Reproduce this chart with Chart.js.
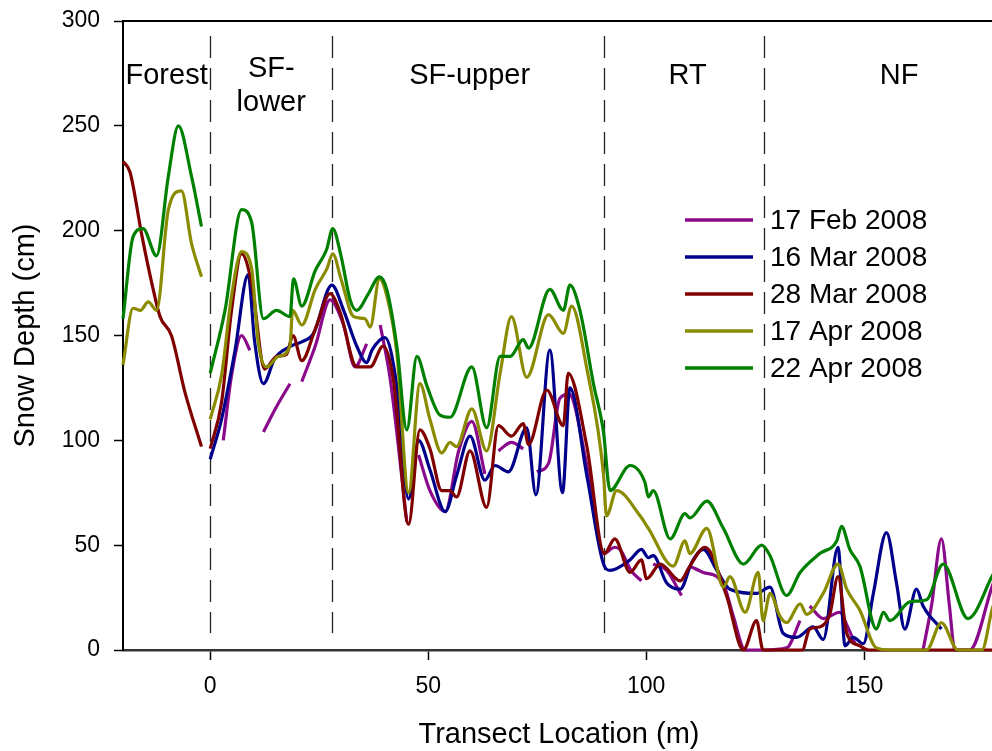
<!DOCTYPE html>
<html>
<head>
<meta charset="utf-8">
<title>Snow depth along transect</title>
<script src="https://cdn.jsdelivr.net/npm/chart.js@4/dist/chart.umd.min.js"></script>
<style>
  html, body { margin: 0; padding: 0; background: #fff; overflow: hidden; }
</style>
</head>
<body>
<canvas id="depthChart" width="1000" height="751"></canvas>
<script>
// survey dates (legend order)
const seriesNames = ["17 Feb 2008", "16 Mar 2008", "28 Mar 2008", "17 Apr 2008", "22 Apr 2008"];

// transect location (m) and snow depth (cm); null = no data
const febX = [3, 4.9, 7.2, 9.1, 10.6, 12.2, 15.2, 18.3, 19.6, 21, 24.1, 27.5, 30.6, 33.2, 35.9, 37.4, 39, 41.3, 45.1, 46.4,
  47.8, 50.4, 53.9, 57, 60, 63, 64.5, 66.1, 69.1, 71.8, 73.3, 74.9, 77.6, 80.2, 82.3, 86.4, 90.2, 92.8, 94, 96.5, 98.9, 100.2,
  101.6, 104.7, 108.1, 109, 110, 113.1, 116.2, 118, 120, 122.7, 127, 132.2, 135.3, 136.4, 137.5, 140.6, 144.4, 146, 147.9, 155,
  163.5, 165.5, 167.7, 169.5, 170.8, 174.2, 179.3, 181];
const febY = [100, 131, 150, 143, null, 104, 116, 127, null, 128, 145, 167, 155, 135, 146, null, 155, 129, 61, null,
  93, 76, 66, 95, 109, 84, null, 95, 99, 96, null, 85, 89, 120, 122, 88, 46, 49, 48, 38, 33, null,
  41, 38, 26, null, 40, 37, 35, 30, 16, 0, 0, 1, 14, null, 21, 15, 18, 12, 3, null,
  0, 22, 53, 22, 0, 0, 30, 40];

const mar16X = [0, 2.6, 5.7, 8.7, 10.2, 12.2, 14.8, 18.6, 21, 23.7, 27.9, 30.6, 33.6, 35.9, 37.1, 40.1, 42.8, 45.5, 47.8, 50.4,
  53.9, 56.5, 59.6, 63, 65.3, 68.4, 72.6, 74.7, 77.9, 80.8, 82.5, 86.4, 90.4, 91.7, 96.3, 98.9, 100.5, 101.6, 104.7, 107.8,
  110.5, 113.1, 116.2, 119.2, 125.3, 128.4, 131.4, 134.5, 138.3, 140.6, 144, 145.6, 147.5, 149.8, 152.1, 155.1, 157.4, 159.3, 162, 163.5,
  167.7];
const mar16Y = [91, 110, 143, 179, 147, 127, 139, 145, 147, 151, 174, 162, 145, 137, 143, 149, 126, 72, 100, 86,
  66, 83, 102, 81, 88, 85, 106, 74, 143, 75, 125, 83, 40, 38, 43, 48, 44, 45, 32, 29,
  42, 48, 38, 29, 27, 30, 8, 6, 11, 5, 49, 2, 6, 3, 27, 56, 32, 10, 29, 21,
  10];

const mar28X = [-20, -18.4, -15.7, -13.4, -11.5, -8.9, -5.8, -2, -1, 0, 2.6, 4.9, 7.2, 9.5, 12.5, 15.2, 17.5, 19, 21, 24.1,
  27.5, 29.8, 33.6, 36.7, 39.7, 42, 45.5, 48.1, 50.4, 53.1, 55, 56.5, 59.6, 63.4, 66.1, 69.1, 71.8, 73, 77.2, 81,
  82.1, 86.4, 90.4, 92.8, 96.3, 98.9, 100.1, 103.2, 107.8, 110, 113.5, 118.4, 122.3, 125.3, 126.8, 131, 135.8, 137.5, 139.8, 142.1,
  144, 146, 149, 151, 160, 170, 181];
const mar28Y = [233, 228, 198, 175, 159, 150, 123, 97, null, 96, 118, 162, 189, 175, 134, 140, 141, 150, 138, 153,
  170, 161, 135, 135, 145, 129, 60, 105, 96, 76, 76, 73, 95, 68, 107, 102, 108, 98, 124, 107,
  132, 97, 46, 53, 37, 43, 34, 41, 33, 40, 49, 26, 0, 14, 0, 0, 0, 10, 11, 17,
  35, 8, 2, 0, 0, 0, 0];

const apr17X = [-20, -17.7, -16, -14.2, -12.3, -9.6, -6.6, -4.3, -2, -1, 0, 2.6, 4.9, 7.2, 9.5, 11, 12.9, 15.6, 18.3, 18.9,
  21, 24.1, 26.8, 28.1, 30, 32.9, 35.5, 36.7, 38.8, 40.5, 42.8, 45.5, 48.1, 50.4, 53.1, 55, 56.5, 60, 63.4, 66.5,
  69.1, 72.6, 77.6, 81, 82.9, 86.4, 90.2, 90.9, 93.2, 98.6, 100.5, 106.2, 108.9, 110, 113.9, 117.7, 119.2, 122.7, 125.7, 126.8,
  128.4, 130.7, 132.2, 135.3, 136.8, 140.6, 144, 146, 149, 152.8, 156, 160, 164.3, 167.7, 171.5, 174, 177, 179.3, 181];
const apr17Y = [136, 163, 162, 166, 162, 210, 219, 194, 178, null, 110, 131, 169, 190, 182, 147, 135, 140, 145, 162,
  155, 172, 182, 189, 177, 159, 158, 154, 177, 169, 142, 75, 127, 110, 94, 99, 97, 115, 95, 132,
  159, 130, 160, 151, 164, 134, 84, 64, 76, 64, 58, 40, 52, 46, 58, 30, 35, 18, 37, 14,
  27, 16, 13, 22, 17, 27, 41, 29, 19, 1, 0, 0, 0, 13, 0, 0, 0, 19, 30];

const apr22X = [-20, -17.7, -15.4, -12.3, -9.6, -7.3, -4.3, -2, -1, 0, 3.4, 7.2, 9.5, 12.2, 15.2, 18.3, 19.1, 21, 24.1, 26.7,
  28.1, 30, 32.1, 33.6, 36.3, 38.8, 40.5, 42.8, 45.1, 47.4, 49.7, 52.7, 55, 60, 63.4, 66.5, 68.8, 71.8, 73, 77.9,
  81, 82.5, 84.8, 87.9, 90.2, 91.7, 96.3, 99.7, 100.5, 101.6, 105.5, 108.9, 110, 113.9, 117.7, 122.3, 126.5, 128.4, 132.2, 135.3,
  139.8, 143.7, 144.8, 146.7, 149, 152.8, 154.4, 155.9, 160.5, 164.3, 168.1, 173.8, 179.3, 181];
const apr22Y = [158, 197, 201, 188, 226, 250, 226, 202, null, 132, 162, 210, 204, 158, 162, 159, 177, 164, 181, 191,
  201, 188, 167, 162, 170, 178, 172, 145, 105, 140, 126, 112, 111, 135, 106, 140, 140, 148, 144, 172,
  162, 174, 162, 127, 104, 76, 88, 80, 73, 76, 53, 65, 63, 71, 58, 41, 50, 45, 26, 37,
  46, 52, 59, 48, 40, 10, 18, 14, 23, 24, 41, 15, 35, 42];

// zones along the transect
const zoneBounds = [0, 28, 90.4, 127];
const zoneNames = [["Forest"], ["SF-", "lower"], ["SF-upper"], ["RT"], ["NF"]];
const zoneCenters = [-10, 14, 59.5, 109.5, 158];

const xTicks = [0, 50, 100, 150];
const yTicks = [0, 50, 100, 150, 200, 250, 300];

const lineColors = ["#8B0A8B", "#00008B", "#800000", "#8B8B00", "#008000"];
const FONT = "'Liberation Sans', Arial, Helvetica, sans-serif";
Chart.defaults.font.family = FONT;

function toPoints(xs, ys) {
  return xs.map(function (x, i) { return { x: x, y: ys[i] }; });
}

const allX = [febX, mar16X, mar28X, apr17X, apr22X];
const allY = [febY, mar16Y, mar28Y, apr17Y, apr22Y];

const datasets = seriesNames.map(function (name, i) {
  return {
    label: name,
    data: toPoints(allX[i], allY[i]),
    borderColor: lineColors[i],
    borderWidth: 3.2,
    pointRadius: 0,
    fill: false,
    spanGaps: false,
    cubicInterpolationMode: "monotone",
    clip: false,
    order: seriesNames.length - i
  };
});

// frame, zone dividers and zone names
const zonePlugin = {
  id: "zones",
  beforeDatasetsDraw: function (chart) {
    const ctx = chart.ctx;
    const a = chart.chartArea;
    const xs = chart.scales.x;
    ctx.save();
    // top frame line
    ctx.strokeStyle = "#000";
    ctx.lineWidth = 2;
    ctx.beginPath();
    ctx.moveTo(a.left, a.top);
    ctx.lineTo(a.right, a.top);
    ctx.lineTo(a.right, a.bottom);
    ctx.stroke();

    // dashed dividers
    ctx.strokeStyle = "#222";
    ctx.lineWidth = 1.3;
    ctx.setLineDash([22, 10]);
    zoneBounds.forEach(function (b) {
      const px = Math.round(xs.getPixelForValue(b)) + 0.5;
      ctx.beginPath();
      ctx.moveTo(px, a.top + 15);
      ctx.lineTo(px, a.bottom - 17);
      ctx.stroke();
    });
    ctx.setLineDash([]);

    // zone names
    ctx.fillStyle = "#000";
    ctx.font = "29px " + FONT;
    ctx.textAlign = "center";
    ctx.textBaseline = "middle";
    zoneNames.forEach(function (lines, i) {
      const px = xs.getPixelForValue(zoneCenters[i]);
      if (lines.length === 1) {
        ctx.fillText(lines[0], px, a.top + 55);
      } else {
        ctx.fillText(lines[0], px, a.top + 48);
        ctx.fillText(lines[1], px, a.top + 82);
      }
    });
    ctx.restore();
  }
};

// legend inside the plot
const legendPlugin = {
  id: "insideLegend",
  afterDraw: function (chart) {
    const ctx = chart.ctx;
    const a = chart.chartArea;
    ctx.save();
    ctx.font = "28px " + FONT;
    ctx.textAlign = "left";
    ctx.textBaseline = "middle";
    chart.data.datasets.forEach(function (ds, i) {
      const y = a.top + 199 + i * 37;
      ctx.strokeStyle = ds.borderColor;
      ctx.lineWidth = 3.5;
      ctx.beginPath();
      ctx.moveTo(a.left + 562, y);
      ctx.lineTo(a.left + 630, y);
      ctx.stroke();
      ctx.fillStyle = "#000";
      ctx.fillText(ds.label, a.left + 647, y + 1);
    });
    ctx.restore();
  }
};

new Chart(document.getElementById("depthChart").getContext("2d"), {
  type: "line",
  data: { datasets: datasets },
  options: {
    responsive: false,
    animation: false,
    layout: {
      autoPadding: false,
      padding: { left: 0, right: 5, top: 21, bottom: 0 }
    },
    plugins: {
      legend: { display: false },
      tooltip: { enabled: false }
    },
    scales: {
      x: {
        type: "linear",
        min: -20,
        max: 180,
        afterBuildTicks: function (s) { s.ticks = xTicks.map(function (v) { return { value: v }; }); },
        afterFit: function (s) { s.height = 101; s.paddingLeft = 0; s.paddingRight = 0; },
        grid: { drawOnChartArea: false, drawTicks: true, tickLength: 10, tickColor: "#000", tickWidth: 1.5 },
        border: { display: true, color: "#333", width: 2.5 },
        ticks: { color: "#000", font: { size: 23 }, padding: 13, maxRotation: 0 },
        title: {
          display: true,
          text: "Transect Location (m)",
          color: "#000",
          font: { size: 29, lineHeight: 1 },
          padding: { top: 0, bottom: 2 }
        }
      },
      y: {
        min: 0,
        max: 300,
        afterBuildTicks: function (s) { s.ticks = yTicks.map(function (v) { return { value: v }; }); },
        afterFit: function (s) { s.width = 123; s.paddingTop = 0; s.paddingBottom = 0; },
        grid: { drawOnChartArea: false, drawTicks: true, tickLength: 9, tickColor: "#000", tickWidth: 1.5 },
        border: { display: true, color: "#000", width: 2 },
        ticks: { color: "#000", font: { size: 23 }, padding: 14 },
        title: {
          display: true,
          text: "Snow Depth (cm)",
          color: "#000",
          font: { size: 29, lineHeight: 1 },
          padding: { top: 11, bottom: 0 }
        }
      }
    }
  },
  plugins: [zonePlugin, legendPlugin]
});
</script>
</body>
</html>
